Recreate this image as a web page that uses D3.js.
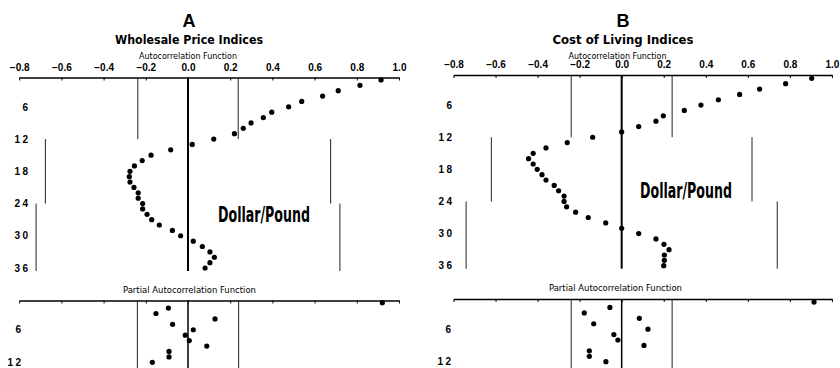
<!DOCTYPE html>
<html>
<head>
<meta charset="utf-8">
<script src="https://cdn.jsdelivr.net/npm/d3@7"></script>
<style>
  body { margin: 0; background: #fff; }
</style>
</head>
<body>
<div class="container"></div>
<script>
const w = 840;
const h = 368;

const xTicks = [-0.8, -0.6, -0.4, -0.2, 0, 0.2, 0.4, 0.6, 0.8, 1.0];
const acfLagTicks = [6, 12, 18, 24, 30, 36];
const pacfLagTicks = [6, 12];
const bandLagEdges = [0, 12, 24, 36];

// autocorrelations, lags 1..36
const wholesaleAcf = [0.915, 0.815, 0.712, 0.638, 0.539, 0.477, 0.397, 0.357, 0.299, 0.262,
    0.220, 0.122, 0.020, -0.082, -0.175, -0.217, -0.254, -0.275, -0.278, -0.275,
    -0.256, -0.236, -0.236, -0.215, -0.215, -0.194, -0.172, -0.136, -0.074, -0.035,
    0.025, 0.068, 0.104, 0.125, 0.104, 0.081];
const costLivingAcf = [0.904, 0.780, 0.656, 0.561, 0.460, 0.377, 0.298, 0.198, 0.163, 0.081,
    0.000, -0.138, -0.259, -0.360, -0.421, -0.443, -0.421, -0.402, -0.379, -0.360,
    -0.321, -0.300, -0.274, -0.274, -0.262, -0.219, -0.159, -0.076, 0.000, 0.081,
    0.163, 0.201, 0.225, 0.203, 0.203, 0.200];

// partial autocorrelations, lags 1..12
const wholesalePacf = [0.921, -0.093, -0.152, 0.128, -0.073, 0.025, -0.013, 0.006, 0.089, -0.090, -0.090, -0.169];
const costLivingPacf = [0.915, -0.056, -0.178, 0.084, -0.133, 0.125, -0.037, -0.018, 0.106, -0.154, -0.154, -0.075];

// two-standard-error limits (lags 1-12, 13-24, 25-36)
const wholesaleAcfBands = [0.238, 0.676, 0.72];
const costLivingAcfBands = [0.24, 0.62, 0.74];
const wholesalePacfBand = 0.24;
const costLivingPacfBand = 0.24;

const panels = [
    {
        letter: 'A', title: 'Wholesale Price Indices', titleW: 148, cx: 189,
        acf: wholesaleAcf, pacf: wholesalePacf, bands: wholesaleAcfBands, pacfBand: wholesalePacfBand,
        xRange: [19.2, 399], acfAxisY: 77.5, acfY: [74.6, 268], pacfAxisY: 300.5, pacfY: [297.2, 362.3],
        acfLagX: 28, pacfLagX: 21, acfTitleX: 188, pacfTitleX: 189.5, pacfTitleY: 293,
        tagX: 264, tagY: 222
    },
    {
        letter: 'B', title: 'Cost of Living Indices', titleW: 141, cx: 623,
        acf: costLivingAcf, pacf: costLivingPacf, bands: costLivingAcfBands, pacfBand: costLivingPacfBand,
        xRange: [453.5, 831.9], acfAxisY: 75, acfY: [73, 265.7], pacfAxisY: 299, pacfY: [296.6, 361.7],
        acfLagX: 452, pacfLagX: 451, acfTitleX: 617.5, pacfTitleX: 615.5, pacfTitleY: 291,
        tagX: 686, tagY: 197.5
    }
];

const svg = d3.select('.container')
    .append('svg')
    .attr('width', w)
    .attr('height', h)
    .style('background', '#fff');

const boldFont = '"Liberation Sans", Arial, sans-serif';
const narrowFont = '"Liberation Sans Narrow", "DejaVu Sans Condensed", "Liberation Sans", sans-serif';

panels.forEach(p => {
    const g = svg.append('g');
    const xScale = d3.scaleLinear().domain([-0.8, 1.0]).range(p.xRange);
    const yAcf = d3.scaleLinear().domain([0, 36]).range(p.acfY);
    const yPacf = d3.scaleLinear().domain([0, 12]).range(p.pacfY);

    // titles
    g.append('text')
        .attr('x', p.cx).attr('y', 27)
        .attr('text-anchor', 'middle')
        .style('font-family', boldFont).style('font-weight', 'bold').style('font-size', '18px')
        .text(p.letter);
    g.append('text')
        .attr('x', p.cx).attr('y', 44)
        .attr('text-anchor', 'middle')
        .attr('textLength', p.titleW).attr('lengthAdjust', 'spacingAndGlyphs')
        .style('font-family', narrowFont).style('font-weight', 'bold').style('font-size', '11.5px')
        .text(p.title);
    g.append('text')
        .attr('x', p.acfTitleX).attr('y', 58.5)
        .attr('text-anchor', 'middle')
        .attr('textLength', 98).attr('lengthAdjust', 'spacingAndGlyphs')
        .style('font-family', narrowFont).style('font-size', '8.5px')
        .text('Autocorrelation Function');
    g.append('text')
        .attr('x', p.pacfTitleX).attr('y', p.pacfTitleY)
        .attr('text-anchor', 'middle')
        .attr('textLength', 133).attr('lengthAdjust', 'spacingAndGlyphs')
        .style('font-family', narrowFont).style('font-size', '9px')
        .text('Partial Autocorrelation Function');

    // ACF top axis
    const acfAxis = g.append('g')
        .attr('transform', `translate(0, ${p.acfAxisY})`)
        .call(d3.axisTop(xScale)
            .tickValues(xTicks)
            .tickFormat(d3.format('.1f'))
            .tickSizeInner(-3)
            .tickSizeOuter(0)
            .tickPadding(7));
    acfAxis.select('.domain').attr('stroke-width', 1.5);
    acfAxis.selectAll('text')
        .attr('font-family', boldFont).attr('font-weight', 'bold').attr('font-size', 10);

    // error bands
    p.bands.forEach((b, i) => {
        const y1 = i === 0 ? p.acfAxisY : yAcf(bandLagEdges[i]);
        const y2 = i === p.bands.length - 1 ? yAcf(36) + 3 : yAcf(bandLagEdges[i + 1]);
        [-b, b].forEach(v => {
            g.append('line')
                .attr('x1', xScale(v)).attr('x2', xScale(v))
                .attr('y1', y1).attr('y2', y2)
                .attr('stroke', '#222').attr('stroke-width', 1);
        });
    });
    g.append('line')
        .attr('x1', xScale(0)).attr('x2', xScale(0))
        .attr('y1', p.acfAxisY).attr('y2', yAcf(36) + 3)
        .attr('stroke', '#000').attr('stroke-width', 2);

    // lag labels
    const lagAxis = g.append('g')
        .attr('transform', `translate(${p.acfLagX + 2.5}, 0)`)
        .call(d3.axisLeft(yAcf).tickValues(acfLagTicks).tickSize(0).tickPadding(0));
    lagAxis.select('.domain').remove();
    lagAxis.selectAll('text')
        .attr('font-family', boldFont).attr('font-weight', 'bold').attr('font-size', 10)
        .style('letter-spacing', '2.5px');

    g.selectAll('.acf-dot')
        .data(p.acf)
        .enter()
        .append('circle')
        .attr('class', 'acf-dot')
        .attr('cx', d => xScale(d))
        .attr('cy', (d, i) => yAcf(i + 1))
        .attr('r', 2.6)
        .attr('fill', '#000');

    g.append('text')
        .attr('x', p.tagX).attr('y', p.tagY)
        .attr('text-anchor', 'middle')
        .attr('textLength', 92).attr('lengthAdjust', 'spacingAndGlyphs')
        .style('font-family', narrowFont).style('font-weight', 'bold').style('font-size', '21px')
        .text('Dollar/Pound');

    // PACF
    const pacfAxis = g.append('g')
        .attr('transform', `translate(0, ${p.pacfAxisY})`)
        .call(d3.axisTop(xScale)
            .tickValues(xTicks)
            .tickFormat('')
            .tickSizeInner(-3)
            .tickSizeOuter(0));
    pacfAxis.select('.domain').attr('stroke-width', 1.5);

    [-p.pacfBand, p.pacfBand].forEach(v => {
        g.append('line')
            .attr('x1', xScale(v)).attr('x2', xScale(v))
            .attr('y1', p.pacfAxisY).attr('y2', h)
            .attr('stroke', '#222').attr('stroke-width', 1);
    });
    g.append('line')
        .attr('x1', xScale(0)).attr('x2', xScale(0))
        .attr('y1', p.pacfAxisY).attr('y2', h)
        .attr('stroke', '#000').attr('stroke-width', 1.5);

    const pacfLagAxis = g.append('g')
        .attr('transform', `translate(${p.pacfLagX + 2.5}, 0)`)
        .call(d3.axisLeft(yPacf).tickValues(pacfLagTicks).tickSize(0).tickPadding(0));
    pacfLagAxis.select('.domain').remove();
    pacfLagAxis.selectAll('text')
        .attr('font-family', boldFont).attr('font-weight', 'bold').attr('font-size', 10)
        .style('letter-spacing', '2.5px');

    g.selectAll('.pacf-dot')
        .data(p.pacf)
        .enter()
        .append('circle')
        .attr('class', 'pacf-dot')
        .attr('cx', d => xScale(d))
        .attr('cy', (d, i) => yPacf(i + 1))
        .attr('r', 2.6)
        .attr('fill', '#000');
});
</script>
</body>
</html>
